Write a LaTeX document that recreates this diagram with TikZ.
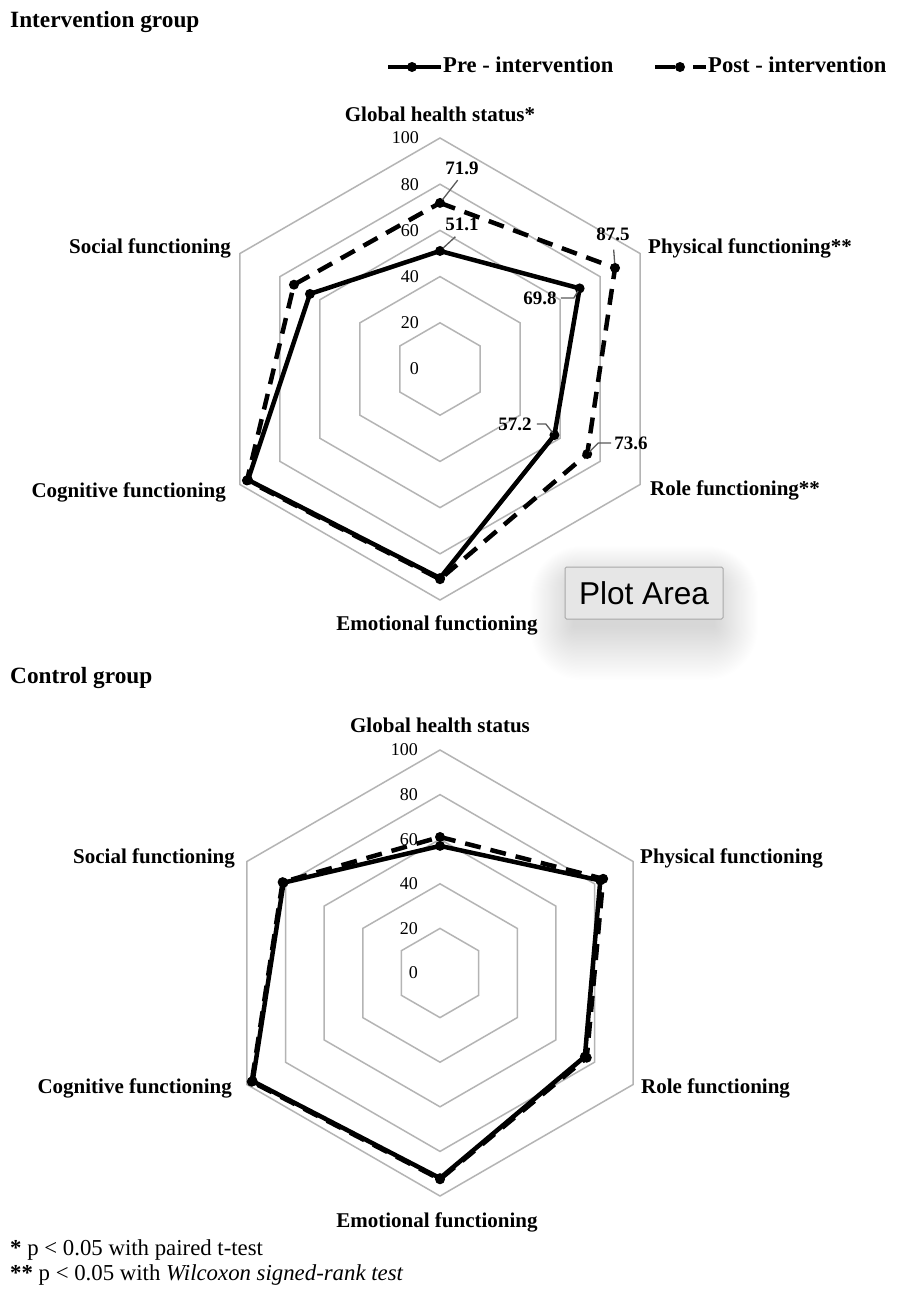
\documentclass[tikz,border=0pt]{standalone}
\usepackage{fontspec}
\setmainfont{Liberation Serif}
\newfontfamily\uifont{Liberation Sans}
\usetikzlibrary{calc}
\definecolor{gridgray}{HTML}{B4B4B4}
\definecolor{leadergray}{HTML}{5A5A5A}
\definecolor{tipfill}{HTML}{E6E6E6}
\definecolor{tipdraw}{HTML}{A8A8A8}
\tikzset{
  grid/.style={draw=gridgray, line width=1.5pt, line join=miter},
  pre/.style={draw=black, line width=4.5pt, line join=round},
  post/.style={draw=black, line width=4.5pt, line join=round, dash pattern=on 16pt off 10pt},
  axlab/.style={font=\fontsize{21}{25}\selectfont\bfseries, inner sep=0pt},
  ticklab/.style={font=\fontsize{18}{21}\selectfont, inner sep=0pt, anchor=east},
  vallab/.style={font=\fontsize{19}{22}\selectfont\bfseries, inner sep=0pt},
  leader/.style={draw=leadergray, line width=1.3pt},
  titlelab/.style={font=\fontsize{23.3}{28}\selectfont\bfseries, inner sep=0pt, anchor=base west},
  legtext/.style={font=\fontsize{22.6}{27}\selectfont\bfseries, inner sep=0pt, anchor=base west},
  foot/.style={font=\fontsize{22.8}{27}\selectfont, inner sep=0pt, anchor=base west},
  tip/.style={draw=tipdraw, fill=tipfill, line width=1pt, rounded corners=1.5pt,
    minimum width=158pt, minimum height=52pt, inner sep=0pt,
    font=\uifont\fontsize{31.6}{36}\selectfont},
  softshadow/.style={fill=black, opacity=0.0055},
}
\newcommand\hexring[2]{% scale, value
  \draw[grid] (90:{#2*#1}) -- (30:{#2*#1}) -- (-30:{#2*#1}) -- (-90:{#2*#1}) -- (-150:{#2*#1}) -- (150:{#2*#1}) -- cycle;}
\begin{document}
\begin{tikzpicture}[x=1pt,y=1pt]
\path[use as bounding box, fill=white] (0,0) rectangle (911,-1291);

% ---------- titles and legend ----------
\node[titlelab] (tInt) at (10,-27) {Intervention group};
\node[titlelab] (tCon) at (10,-683) {Control group};

\coordinate (lgA1) at (388,-67); \coordinate (lgA2) at (441,-67);
\draw[pre] (lgA1) -- (lgA2);
\fill (412,-67) circle (5pt);
\node[legtext] (legPre) at (443,-72) {Pre - intervention};
\coordinate (lgB1) at (655,-67); \coordinate (lgB2) at (706,-67);
\draw[draw=black, line width=4.5pt, dash pattern=on 20pt off 18pt on 13pt] (lgB1) -- (lgB2);
\fill (680,-67) circle (5pt);
\node[legtext] (legPost) at (708,-72) {Post - intervention};

% ---------- top radar ----------
\begin{scope}[shift={(440,-369)}]
  \foreach \v in {20,40,60,80,100} {\hexring{2.31}{\v}}
  \coordinate (aPreG) at (90:{51.1*2.31});
  \coordinate (aPreP) at (30:{69.8*2.31});
  \coordinate (aPreR) at (-30:{57.2*2.31});
  \coordinate (aPreE) at (-90:{90.5*2.31});
  \coordinate (aPreC) at (-150:{96*2.31});
  \coordinate (aPreS) at (150:{65*2.31});
  \coordinate (aPostG) at (90:{71.9*2.31});
  \coordinate (aPostP) at (30:{87.5*2.31});
  \coordinate (aPostR) at (-30:{73.6*2.31});
  \coordinate (aPostE) at (-90:{91*2.31});
  \coordinate (aPostC) at (-150:{96.5*2.31});
  \coordinate (aPostS) at (150:{73*2.31});
\end{scope}
\foreach \v in {0,20,40,60,80,100} {\node[ticklab] (ta\v) at (419,{-369+\v*2.31}) {\v};}
\draw[pre] (aPreG) -- (aPreP) -- (aPreR) -- (aPreE) -- (aPreC) -- (aPreS) -- cycle;
\foreach \p in {aPreG,aPreP,aPreR,aPreE,aPreC,aPreS} {\fill (\p) circle (5pt);}
\draw[post] (aPostG) -- (aPostP) -- (aPostR) -- (aPostE) -- (aPostC) -- (aPostS) -- cycle;
\foreach \p in {aPostG,aPostP,aPostR,aPostE,aPostC,aPostS} {\fill (\p) circle (5pt);}

\node[axlab, anchor=base] (aG) at (440,-121) {Global health status*};
\node[axlab, anchor=base west] (aP) at (648,-253) {Physical functioning**};
\node[axlab, anchor=base west] (aR) at (650,-495) {Role functioning**};
\node[axlab, anchor=base] (aE) at (437,-630) {Emotional functioning};
\node[axlab, anchor=base east] (aC) at (226,-497) {Cognitive functioning};
\node[axlab, anchor=base east] (aS) at (231,-253) {Social functioning};

\node[vallab] (l719) at (462,-168) {71.9};
\node[vallab] (l511) at (462,-224) {51.1};
\node[vallab] (l875) at (613,-234) {87.5};
\node[vallab] (l698) at (540,-298) {69.8};
\node[vallab] (l572) at (515,-424) {57.2};
\node[vallab] (l736) at (631,-443) {73.6};
\draw[leader, shorten <=7pt, shorten >=4pt] (l719.south) -- (aPostG);
\draw[leader, shorten <=9pt, shorten >=4pt] (l511.south) -- (aPreG);
\draw[leader, shorten <=9pt, shorten >=5pt] (l875.south) -- (aPostP);
\draw[leader, shorten >=3pt] ([xshift=4pt]l698.east) -- ++(13,0) -- (aPreP);
\draw[leader, shorten >=3pt] ([xshift=5pt]l572.east) -- ++(9,0) -- (aPreR);
\draw[leader, shorten >=3pt] ([xshift=-3pt]l736.west) -- ++(-13,0) -- (aPostR);

% tooltip with soft shadow
\coordinate (shA) at (574,-582);
\coordinate (shB) at (714,-626);
\foreach \i in {1,...,40} {
  \fill[softshadow, rounded corners={\i*1.3pt}] ($(shA)+({-\i*1.1},{\i*0.9})$) rectangle ($(shB)+({\i*1.1},{-\i*1.35})$);
}
\node[tip] (plotarea) at (644,-593) {Plot Area};

% ---------- bottom radar ----------
\begin{scope}[shift={(440,-973)}]
  \foreach \v in {20,40,60,80,100} {\hexring{2.23}{\v}}
  \coordinate (bPreG) at (90:{57*2.23});
  \coordinate (bPreP) at (30:{83*2.23});
  \coordinate (bPreR) at (-30:{75*2.23});
  \coordinate (bPreE) at (-90:{92*2.23});
  \coordinate (bPreC) at (-150:{97*2.23});
  \coordinate (bPreS) at (150:{81*2.23});
  \coordinate (bPostG) at (90:{61*2.23});
  \coordinate (bPostP) at (30:{84.5*2.23});
  \coordinate (bPostR) at (-30:{76*2.23});
  \coordinate (bPostE) at (-90:{92.5*2.23});
  \coordinate (bPostC) at (-150:{97.5*2.23});
  \coordinate (bPostS) at (150:{81.5*2.23});
\end{scope}
\foreach \v in {0,20,40,60,80,100} {\node[ticklab] (tb\v) at (418,{-973+\v*2.23}) {\v};}
\draw[pre] (bPreG) -- (bPreP) -- (bPreR) -- (bPreE) -- (bPreC) -- (bPreS) -- cycle;
\foreach \p in {bPreG,bPreP,bPreR,bPreE,bPreC,bPreS} {\fill (\p) circle (5pt);}
\draw[post] (bPostG) -- (bPostP) -- (bPostR) -- (bPostE) -- (bPostC) -- (bPostS) -- cycle;
\foreach \p in {bPostG,bPostP,bPostR,bPostE,bPostC,bPostS} {\fill (\p) circle (5pt);}

\node[axlab, anchor=base] (bG) at (440,-732) {Global health status};
\node[axlab, anchor=base west] (bP) at (640,-863) {Physical functioning};
\node[axlab, anchor=base west] (bR) at (641,-1093) {Role functioning};
\node[axlab, anchor=base] (bE) at (437,-1227) {Emotional functioning};
\node[axlab, anchor=base east] (bC) at (232,-1093) {Cognitive functioning};
\node[axlab, anchor=base east] (bS) at (235,-863) {Social functioning};

% ---------- footnotes ----------
\node[foot] (f1) at (10,-1255) {\textbf{*} p < 0.05 with paired t-test};
\node[foot] (f2) at (10,-1280) {\textbf{**} p < 0.05 with \textit{Wilcoxon signed-rank test}};
\end{tikzpicture}
\end{document}
